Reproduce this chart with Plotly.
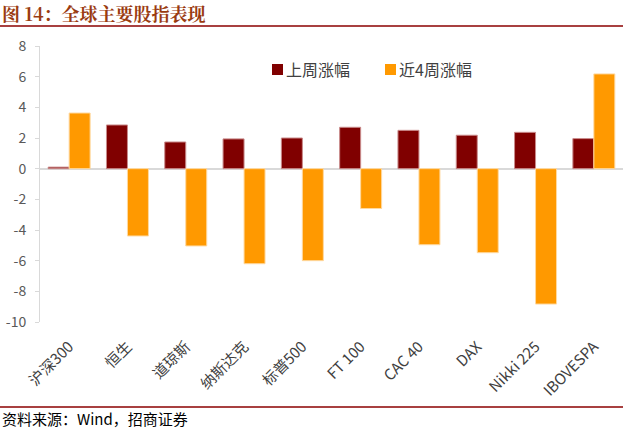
import plotly.graph_objects as go

categories = ["沪深300", "恒生", "道琼斯", "纳斯达克", "标普500", "FT 100", "CAC 40", "DAX", "Nikki 225", "IBOVESPA"]
last_week = [0.1, 2.85, 1.74, 1.94, 2.0, 2.7, 2.5, 2.18, 2.37, 1.96]
last_4_weeks = [3.63, -4.39, -5.04, -6.2, -6.0, -2.6, -4.96, -5.48, -8.83, 6.18]
series_names = ["上周涨幅", "近4周涨幅"]
series_colors = ["#800000", "#FF9900"]
y_ticks = [-10, -8, -6, -4, -2, 0, 2, 4, 6, 8]

W, H = 623, 429
L, R, T, B = 40, 623, 46, 322

def px(x):
    return (x - L) / (R - L)

def py(y):
    return (B - y) / (B - T)

CJK = "Noto Sans CJK SC, Noto Sans, sans-serif"

fig = go.Figure()
fig.add_trace(go.Bar(x=categories, y=last_week, name=series_names[0],
                     marker=dict(color=series_colors[0], line=dict(color="#C98A8A", width=1))))
fig.add_trace(go.Bar(x=categories, y=last_4_weeks, name=series_names[1],
                     marker=dict(color=series_colors[1], line=dict(color="#FFD9A0", width=1))))

fig.update_layout(
    width=W, height=H,
    margin=dict(l=L, r=W - R, t=T, b=H - B, pad=0),
    paper_bgcolor="white", plot_bgcolor="white",
    barmode="group", bargap=0.28, bargroupgap=0,
    showlegend=False,
    font=dict(family=CJK, color="#595959"),
)
fig.update_xaxes(showgrid=False, showline=False, ticks="", tickangle=-45,
                 ticklabelstandoff=12,
                 tickfont=dict(family=CJK, size=15, color="#404040"))
fig.update_yaxes(range=[-10, 8], tickvals=y_ticks, ticktext=[str(v) for v in y_ticks],
                 showgrid=False, showline=True, linecolor="#D9D9D9", linewidth=1,
                 ticks="outside", ticklen=4, tickcolor="#D9D9D9", ticklabelstandoff=6,
                 zeroline=True, zerolinecolor="#D9D9D9", zerolinewidth=1.5,
                 tickfont=dict(family=CJK, size=14, color="#595959"))

# legend (manual, to keep the tight square-to-text spacing)
legend_x = [272, 385]
for name, color, lx in zip(series_names, series_colors, legend_x):
    fig.add_shape(type="rect", xref="paper", yref="paper",
                  x0=px(lx), x1=px(lx + 11), y0=py(75), y1=py(64),
                  fillcolor=color, line=dict(width=0))
    fig.add_annotation(text=name, xref="paper", yref="paper",
                       x=px(lx + 12), y=py(69), xanchor="left", yanchor="middle",
                       showarrow=False, font=dict(family=CJK, size=16, color="#404040"))

# title
fig.add_annotation(text="<b>图 14：全球主要股指表现</b>", xref="paper", yref="paper",
                   x=px(0), y=py(13), xanchor="left", yanchor="middle", showarrow=False,
                   font=dict(family="Noto Serif CJK SC, Noto Sans CJK SC, serif", size=18, color="#9A3B10"))
fig.add_shape(type="line", xref="paper", yref="paper", x0=px(0), x1=px(623), y0=py(26), y1=py(26),
              line=dict(color="#8B0000", width=1.5))
fig.add_shape(type="line", xref="paper", yref="paper", x0=px(0), x1=px(623), y0=py(407), y1=py(407),
              line=dict(color="#8B0000", width=1.5))
fig.add_annotation(text="资料来源：Wind，招商证券", xref="paper", yref="paper",
                   x=px(0), y=py(418), xanchor="left", yanchor="middle", showarrow=False,
                   font=dict(family=CJK, size=15, color="#000000"))

fig.write_html("out.html", config={"displayModeBar": False},
               post_script="document.body.style.margin='0';document.body.style.overflow='hidden';")
